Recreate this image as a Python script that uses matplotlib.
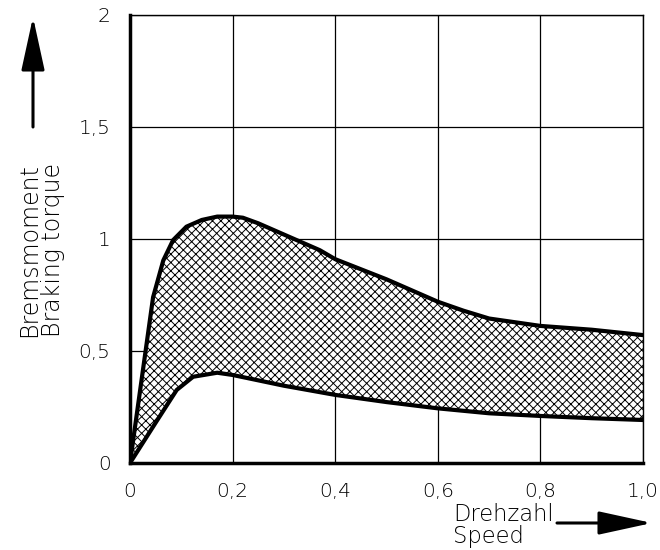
import matplotlib
matplotlib.use("Agg")
from matplotlib import pyplot as plt

# upper and lower limit of the braking torque band
upper_x = [0, 0.045, 0.065, 0.084, 0.11, 0.14, 0.17, 0.2, 0.22, 0.25, 0.3, 0.37, 0.4, 0.5, 0.6, 0.65, 0.7, 0.8, 0.9, 1.0]
upper_y = [0, 0.74, 0.905, 0.995, 1.055, 1.085, 1.10, 1.10, 1.095, 1.07, 1.02, 0.95, 0.91, 0.82, 0.72, 0.68, 0.645, 0.612, 0.595, 0.571]
lower_x = [0, 0.05, 0.091, 0.123, 0.17, 0.2, 0.3, 0.4, 0.5, 0.6, 0.7, 0.8, 0.9, 1.0]
lower_y = [0, 0.18, 0.326, 0.385, 0.403, 0.393, 0.345, 0.304, 0.272, 0.244, 0.222, 0.21, 0.2, 0.192]

x_ticks = [0, 0.2, 0.4, 0.6, 0.8, 1.0]
x_labels = ["0", "0,2", "0,4", "0,6", "0,8", "1,0"]
y_ticks = [0, 0.5, 1, 1.5, 2]
y_labels = ["0", "0,5", "1", "1,5", "2"]

plt.rcParams["font.family"] = "DejaVu Sans"
plt.rcParams["font.weight"] = "light"
plt.rcParams["hatch.linewidth"] = 0.7

fig = plt.figure(figsize=(6.6, 5.5), dpi=100)
ax = fig.add_axes([130 / 660, 87 / 550, 513 / 660, 448 / 550])

# hatched band between the two limits
band_x = upper_x + lower_x[::-1]
band_y = upper_y + lower_y[::-1]
ax.fill(band_x, band_y, facecolor="white", edgecolor="black", hatch="xxxx", linewidth=0, zorder=2)
ax.plot(upper_x, upper_y, color="black", linewidth=3, zorder=3, solid_joinstyle="round")
ax.plot(lower_x, lower_y, color="black", linewidth=3, zorder=3, solid_joinstyle="round")

ax.set_xlim(0, 1.0)
ax.set_ylim(0, 2)
ax.set_xticks(x_ticks)
ax.set_xticklabels(x_labels)
ax.set_yticks(y_ticks)
ax.set_yticklabels(y_labels)
ax.tick_params(length=0, labelsize=14.5, pad=14)
ax.grid(True, color="black", linewidth=0.9)
ax.set_axisbelow(True)
for side in ["top", "right"]:
    ax.spines[side].set_linewidth(1.0)
for side in ["left", "bottom"]:
    ax.spines[side].set_linewidth(2.5)
    ax.spines[side].set_zorder(4)

# axis captions
fig.text(17 / 660, 1 - 337 / 550, "Bremsmoment\nBraking torque", rotation=90,
         fontsize=17, ha="left", va="bottom", multialignment="left", linespacing=1.0)
fig.text(453 / 660, 1 - 548 / 550, "Drehzahl\nSpeed", fontsize=16.3,
         ha="left", va="bottom", multialignment="left", linespacing=0.95)

# direction arrows
arrow_style = dict(arrowstyle="-|>,head_length=3.3,head_width=0.72", mutation_scale=10,
                   color="black", linewidth=2.2, shrinkA=0, shrinkB=0)
ax.annotate("", xy=(33 / 660, 1 - 17 / 550), xytext=(33 / 660, 1 - 127 / 550),
            xycoords="figure fraction", textcoords="figure fraction", arrowprops=arrow_style,
            annotation_clip=False)
ax.annotate("", xy=(652 / 660, 1 - 523 / 550), xytext=(557 / 660, 1 - 523 / 550),
            xycoords="figure fraction", textcoords="figure fraction", arrowprops=arrow_style,
            annotation_clip=False)

fig.savefig("out.png", dpi=100)
